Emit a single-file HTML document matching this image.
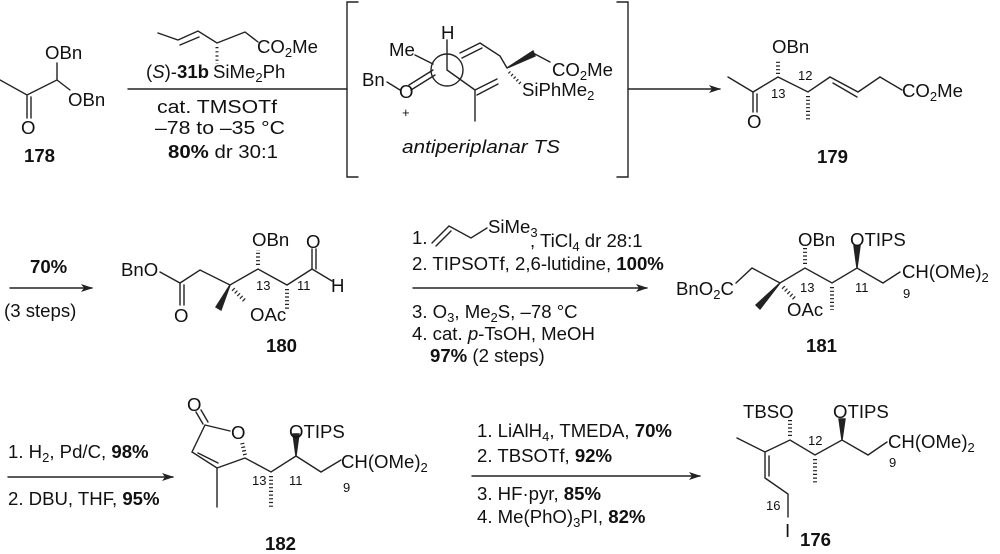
<!DOCTYPE html>
<html><head><meta charset="utf-8"><style>
html,body{margin:0;padding:0;background:#fff;}
svg{display:block;}
text{font-family:"Liberation Sans",Arial,sans-serif;fill:#111;}
.t{font-size:18.6px;}
.s{font-size:13px;}
.b{font-weight:bold;}
.h{stroke-linecap:butt;}
</style></head><body>
<svg width="1000" height="554" viewBox="0 0 1000 554" xmlns="http://www.w3.org/2000/svg">
<defs>
<marker id="ah" markerWidth="12" markerHeight="8" refX="11" refY="4" orient="auto" markerUnits="userSpaceOnUse">
<path d="M0,0 L12,4 L0,8 L3,4 Z" fill="#222"/></marker>
</defs>
<g stroke="#222" stroke-width="1.4" fill="none" stroke-linecap="round">
<path d="M0,80 L27,95 L57,80 L57,63 M57,80 L70,90 M27,95 L27,118 M31,97 L31,118"/>
<path d="M128,89 L347,89"/>
<path d="M158,33 L178,40 L198,31 L217,43 L245,32 L258,42 M180,45 L199,37"/>
<path class="h" d="M217,47 L217,64" stroke-width="3" stroke-dasharray="1.2,3"/>
<path d="M358,2 L347,2 L347,177 L358,177 M617,2 L628,2 L628,177 L617,177"/>
<circle cx="447" cy="70" r="16"/>
<path d="M447,40 L447,70 L475,90 M447,70 L475,90 L475,121 M475,90 L497,79 M477,95 L498,84 M415,55 L433,64 M387,82 L400,90 M409,85 L433,70 M411,90 L435,75 M460,53 L480,43 M462,58 L482,48 M480,43 L500,56 L507,68"/>
<polygon points="507,68 533,51 535,56" fill="#222"/>
<path d="M533,53 L550,62"/>
<path class="h" d="M509,72 L522,85" stroke-width="3" stroke-dasharray="1.2,2.5"/>
<path d="M628,89 L720,89" marker-end="url(#ah)"/>
<path d="M728,77 L753,92 L778,77 M753,92 L753,112 M757,94 L757,112 M778,77 L808,92 L830,77 L858,92 L880,77 L902,90 M833,83 L857,97"/>
<path class="h" d="M778,74 L778,60" stroke-width="4" stroke-dasharray="1.2,2.5"/>
<path class="h" d="M808,96 L808,120" stroke-width="4" stroke-dasharray="1.2,2.5"/>
<path d="M10,288 L92,288" marker-end="url(#ah)"/>
<path d="M160,272 L180,283 L200,270 L230,285 L258,269 L287,285 L312,269 M180,283 L180,305 M184,285 L184,305 M312,269 L312,249 M316,269 L316,249 M312,269 L332,281"/>
<polygon points="230,285 216,307 221,310" fill="#222"/>
<path class="h" d="M233,289 L246,302" stroke-width="4" stroke-dasharray="1.2,2.5"/>
<path class="h" d="M258,265 L258,250" stroke-width="4" stroke-dasharray="1.2,2.5"/>
<path class="h" d="M287,289 L287,310" stroke-width="4" stroke-dasharray="1.2,2.5"/>
<path d="M413,288 L647,288" marker-end="url(#ah)"/>
<path d="M432,243 L449,226 L471,238 L487,228 M436,246 L451,231"/>
<path d="M736,283 L752,268 L780,283 L805,268 L832,283 L857,268 L883,283 L900,272"/>
<polygon points="780,283 756,305 760,309" fill="#222"/>
<path class="h" d="M783,287 L796,300" stroke-width="4" stroke-dasharray="1.2,2.5"/>
<path class="h" d="M805,264 L805,248" stroke-width="4" stroke-dasharray="1.2,2.5"/>
<path class="h" d="M832,287 L832,310" stroke-width="4" stroke-dasharray="1.2,2.5"/>
<polygon points="857,268 854,246 860,246" fill="#222"/>
<path d="M8,477 L173,477" marker-end="url(#ah)"/>
<path d="M205,425 L192,452 L217,468 L245,458 L271,472 L296,456 L321,472 L341,460 M198,453 L218,463 M217,468 L217,507 M205,425 L230,431 M203,424 L196,412 M208,422 L201,410"/>
<path class="h" d="M245,455 L242,442" stroke-width="4" stroke-dasharray="1.2,2.5"/>
<path class="h" d="M271,476 L271,507" stroke-width="4" stroke-dasharray="1.2,2.5"/>
<polygon points="296,456 293,434 299,434" fill="#222"/>
<path d="M472,476 L700,476" marker-end="url(#ah)"/>
<path d="M737,438 L765,452 L790,440 L815,455 L842,440 L868,455 L887,442 M765,452 L765,478 M769,456 L769,476 M765,478 L788,494 L788,517"/>
<path class="h" d="M790,436 L790,420" stroke-width="4" stroke-dasharray="1.2,2.5"/>
<path class="h" d="M815,459 L815,483" stroke-width="4" stroke-dasharray="1.2,2.5"/>
<polygon points="842,440 839,419 845,419" fill="#222"/>
</g>

<text class="t" x="45" y="59">OBn</text>
<text class="t" x="68" y="106">OBn</text>
<text class="t" x="21" y="134">O</text>
<text class="t b" x="24" y="162">178</text>
<text class="t" x="257" y="53">CO<tspan class="s" dy="4">2</tspan><tspan dy="-4">Me</tspan></text>
<text class="t" x="146" y="78" font-size="17">(<tspan font-style="italic">S</tspan>)-<tspan font-weight="bold">31b</tspan></text>
<text class="t" x="213" y="78">SiMe<tspan class="s" dy="4">2</tspan><tspan dy="-4">Ph</tspan></text>
<text class="t" x="157" y="113" textLength="120" lengthAdjust="spacingAndGlyphs">cat. TMSOTf</text>
<text class="t" x="155" y="134" textLength="130" lengthAdjust="spacingAndGlyphs">–78 to –35 °C</text>
<text class="t" x="168" y="158" textLength="110" lengthAdjust="spacingAndGlyphs"><tspan font-weight="bold">80%</tspan> dr 30:1</text>
<text class="t" x="441" y="39">H</text>
<text class="t" x="389" y="56">Me</text>
<text class="t" x="362" y="86">Bn</text>
<text class="t" x="399" y="98">O</text>
<text class="s" x="402" y="117">+</text>
<text class="t" x="552" y="76">CO<tspan class="s" dy="4">2</tspan><tspan dy="-4">Me</tspan></text>
<text class="t" x="522" y="96">SiPhMe<tspan class="s" dy="4">2</tspan></text>
<text class="t" x="402" y="153" font-style="italic" textLength="158" lengthAdjust="spacingAndGlyphs">antiperiplanar TS</text>
<text class="t" x="772" y="53">OBn</text>
<text class="s" x="771" y="98">13</text>
<text class="s" x="798" y="80">12</text>
<text class="t" x="747" y="128">O</text>
<text class="t" x="902" y="97">CO<tspan class="s" dy="4">2</tspan><tspan dy="-4">Me</tspan></text>
<text class="t b" x="817" y="163">179</text>
<text class="t b" x="30" y="273">70%</text>
<text class="t" x="4" y="317">(3 steps)</text>
<text class="t" x="121" y="276">BnO</text>
<text class="t" x="174" y="322">O</text>
<text class="t" x="252" y="246">OBn</text>
<text class="t" x="306" y="248">O</text>
<text class="t" x="331" y="292">H</text>
<text class="s" x="256" y="290">13</text>
<text class="s" x="297" y="290">11</text>
<text class="t" x="250" y="321">OAc</text>
<text class="t b" x="266" y="352">180</text>
<text class="t" x="412" y="244">1.</text>
<text class="t" x="488" y="233">SiMe<tspan class="s" dy="4">3</tspan></text>
<text class="t" x="530" y="247">, TiCl<tspan class="s" dy="4">4</tspan><tspan dy="-4"> dr 28:1</tspan></text>
<text class="t" x="412" y="270">2. TIPSOTf, 2,6-lutidine, <tspan font-weight="bold">100%</tspan></text>
<text class="t" x="412" y="318">3. O<tspan class="s" dy="4">3</tspan><tspan dy="-4">, Me</tspan><tspan class="s" dy="4">2</tspan><tspan dy="-4">S, –78 °C</tspan></text>
<text class="t" x="412" y="340">4. cat. <tspan font-style="italic">p</tspan>-TsOH, MeOH</text>
<text class="t" x="430" y="362"><tspan font-weight="bold">97%</tspan> (2 steps)</text>
<text class="t" x="676" y="295">BnO<tspan class="s" dy="4">2</tspan><tspan dy="-4">C</tspan></text>
<text class="t" x="798" y="246">OBn</text>
<text class="t" x="850" y="246">OTIPS</text>
<text class="s" x="800" y="292">13</text>
<text class="s" x="855" y="292">11</text>
<text class="s" x="903" y="298">9</text>
<text class="t" x="902" y="278">CH(OMe)<tspan class="s" dy="4">2</tspan></text>
<text class="t" x="787" y="316">OAc</text>
<text class="t b" x="806" y="352">181</text>
<text class="t" x="8" y="458">1. H<tspan class="s" dy="4">2</tspan><tspan dy="-4">, Pd/C, </tspan><tspan font-weight="bold">98%</tspan></text>
<text class="t" x="8" y="505">2. DBU, THF, <tspan font-weight="bold">95%</tspan></text>
<text class="t" x="187" y="411">O</text>
<text class="t" x="231" y="439">O</text>
<text class="s" x="252" y="485">13</text>
<text class="s" x="289" y="485">11</text>
<text class="s" x="343" y="492">9</text>
<text class="t" x="289" y="438">OTIPS</text>
<text class="t" x="341" y="468">CH(OMe)<tspan class="s" dy="4">2</tspan></text>
<text class="t b" x="265" y="550">182</text>
<text class="t" x="477" y="437">1. LiAlH<tspan class="s" dy="4">4</tspan><tspan dy="-4">, TMEDA, </tspan><tspan font-weight="bold">70%</tspan></text>
<text class="t" x="477" y="462">2. TBSOTf, <tspan font-weight="bold">92%</tspan></text>
<text class="t" x="477" y="500">3. HF·pyr, <tspan font-weight="bold">85%</tspan></text>
<text class="t" x="477" y="523">4. Me(PhO)<tspan class="s" dy="4">3</tspan><tspan dy="-4">PI, </tspan><tspan font-weight="bold">82%</tspan></text>
<text class="t" x="743" y="418">TBSO</text>
<text class="t" x="833" y="418">OTIPS</text>
<text class="s" x="808" y="445">12</text>
<text class="s" x="766" y="510">16</text>
<text class="s" x="889" y="467">9</text>
<text class="t" x="888" y="448">CH(OMe)<tspan class="s" dy="4">2</tspan></text>
<text class="t" x="785" y="537">I</text>
<text class="t b" x="800" y="546">176</text>
</svg>
</body></html>
